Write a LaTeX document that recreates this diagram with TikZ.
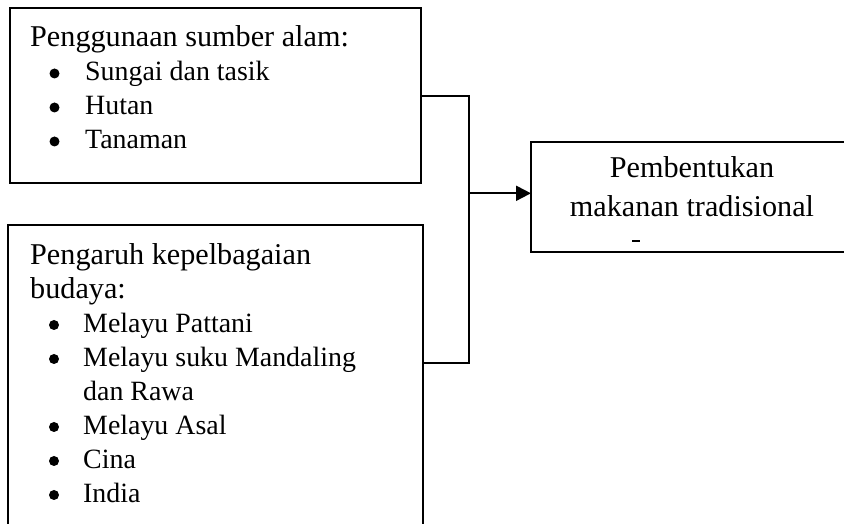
\documentclass[tikz,border=0pt]{standalone}
\usepackage{fontspec}
\setmainfont{Liberation Serif}
\usetikzlibrary{arrows.meta}
\begin{document}
\begin{tikzpicture}[x=1pt,y=1pt,
  box/.style={draw, line width=2.6pt, inner sep=0pt, outer sep=0pt},
  conn/.style={line width=2pt},
  head/.style={anchor=base west, inner sep=0pt, font=\fontsize{30.2}{34}\selectfont},
  item/.style={anchor=base west, inner sep=0pt, font=\fontsize{27.9}{34}\selectfont},
  ctext/.style={anchor=base, inner sep=0pt, font=\fontsize{30.2}{34}\selectfont},
  bul/.style={fill=black}]
\useasboundingbox (0,0) rectangle (844,524);
% boxes
\node[box, minimum width=411pt, minimum height=175pt] (top) at (215.5,428.5) {};
\node[box, minimum width=415pt, minimum height=339pt] (bot) at (215.5,129.5) {};
\node[box, minimum width=322pt, minimum height=110pt] (res) at (692,327) {};
% top box text
\node[head] (h1) at (30,477.5) {Penggunaan sumber alam:};
\node[item] (t1) at (85,443) {Sungai dan tasik};
\node[item] (t2) at (85,409) {Hutan};
\node[item] (t3) at (85,375) {Tanaman};
\foreach \y in {443,409,375} \fill[bul] (54.5,\y+7.5) circle (5pt);
% bottom box text
\node[head] (h2) at (30,259.5) {Pengaruh kepelbagaian};
\node[head] (h2b) at (30,225.5) {budaya:};
\node[item] (b1) at (83,191.5) {Melayu Pattani};
\node[item] (b2) at (83,157.5) {Melayu suku Mandaling};
\node[item] (b2b) at (83,123.5) {dan Rawa};
\node[item] (b3) at (83,89.5) {Melayu Asal};
\node[item] (b4) at (83,55.5) {Cina};
\node[item] (b5) at (83,21.5) {India};
\foreach \y in {191.5,157.5,89.5,55.5,21.5} \fill[bul] (54,\y+7.5) circle (5pt);
% right box text
\node[ctext] (r1) at (692,346) {Pembentukan};
\node[ctext] (r2) at (692,307.5) {makanan tradisional};
\node[inner sep=0pt] (mark) at (636,283) {\rule{8pt}{1.2pt}};
% connectors
\coordinate (ja) at (469,427.5);
\coordinate (jb) at (469,161);
\coordinate (jc) at (469,330.7);
\draw[conn] (top.east |- ja) -- (ja) -- (jb) -- (bot.east |- jb);
\draw[conn, -{Triangle[length=15pt, width=15pt]}] (jc) -- (res.west |- jc);
\end{tikzpicture}
\end{document}
